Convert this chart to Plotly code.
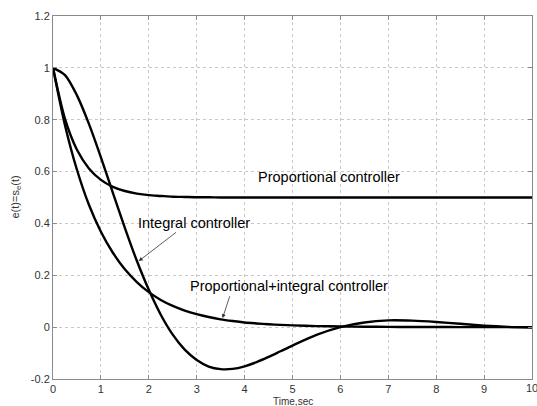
import plotly.graph_objects as go

# time samples (sec)
time = [0, 0.25, 0.5, 0.75, 1.0, 1.25, 1.5, 1.75, 2.0, 2.25, 2.5, 2.75, 3.0,
        3.25, 3.5, 3.75, 4.0, 4.25, 4.5, 4.75, 5.0, 5.5, 6.0, 6.5, 7.0, 7.5, 8.0, 8.5, 9.0, 9.5, 10.0]

proportional = [1.0, 0.803, 0.684, 0.612, 0.568, 0.541, 0.525, 0.515, 0.509, 0.506, 0.503, 0.502, 0.501,
                0.501, 0.500, 0.500, 0.500, 0.500, 0.500, 0.500, 0.500, 0.500, 0.500, 0.500, 0.500, 0.500,
                0.500, 0.500, 0.500, 0.500, 0.500]

integral = [1.0, 0.972, 0.894, 0.784, 0.655, 0.518, 0.383, 0.256, 0.144, 0.048, -0.029, -0.087, -0.127,
            -0.152, -0.162, -0.161, -0.151, -0.135, -0.115, -0.093, -0.071, -0.030, 0.000, 0.018, 0.026,
            0.025, 0.020, 0.013, 0.006, 0.001, -0.002]

prop_integral = [1.0, 0.779, 0.607, 0.472, 0.368, 0.287, 0.223, 0.174, 0.135, 0.105, 0.082, 0.064, 0.050,
                 0.039, 0.030, 0.0235, 0.018, 0.0143, 0.011, 0.0087, 0.007, 0.004, 0.0025, 0.0015, 0.001,
                 0.0006, 0.0004, 0.0002, 0.0001, 0.0, 0.0]

x_ticks = [0, 1, 2, 3, 4, 5, 6, 7, 8, 9, 10]
x_tick_labels = ["0", "1", "2", "3", "4", "5", "6", "7", "8", "9", "10"]
y_ticks = [-0.2, 0, 0.2, 0.4, 0.6, 0.8, 1.0, 1.2]
y_tick_labels = ["-0.2", "0", "0.2", "0.4", "0.6", "0.8", "1", "1.2"]

FONT = "Liberation Sans, Arial, Helvetica, sans-serif"

fig = go.Figure()
for ys, name in [(proportional, "Proportional controller"),
                 (integral, "Integral controller"),
                 (prop_integral, "Proportional+integral controller")]:
    fig.add_trace(go.Scatter(x=time, y=ys, mode="lines", name=name,
                             line=dict(color="black", width=2.4, shape="spline", smoothing=0.8)))

axis_common = dict(showline=True, linecolor="#8a8a8a", linewidth=1, mirror="ticks",
                   ticks="inside", ticklen=4, tickcolor="#8a8a8a", automargin=False,
                   showgrid=True, gridcolor="#c8c8c8", griddash="dot", gridwidth=1,
                   zeroline=False, tickfont=dict(family=FONT, size=11, color="#333"))

# last x tick label is drawn as an annotation so it is not dropped at the canvas edge
fig.update_xaxes(range=[0, 10], tickvals=x_ticks, ticktext=x_tick_labels[:-1] + [""], **axis_common)
fig.update_yaxes(range=[-0.2, 1.2], tickvals=y_ticks, ticktext=y_tick_labels, **axis_common)

annotations = [
    dict(x=5.77, y=0.579, xref="x", yref="y", text="Proportional controller", showarrow=False,
         font=dict(family=FONT, size=14.5, color="black")),
    dict(x=2.94, y=0.402, xref="x", yref="y", text="Integral controller", showarrow=False,
         font=dict(family=FONT, size=14.5, color="black")),
    dict(x=4.92, y=0.159, xref="x", yref="y", text="Proportional+integral controller", showarrow=False,
         font=dict(family=FONT, size=14.5, color="black")),
    # arrows
    dict(x=1.79, y=0.255, xref="x", yref="y", ax=2.60, ay=0.37, axref="x", ayref="y", text="",
         showarrow=True, arrowhead=2, arrowsize=1, arrowwidth=0.8, arrowcolor="#333"),
    dict(x=3.54, y=0.035, xref="x", yref="y", ax=3.70, ay=0.125, axref="x", ayref="y", text="",
         showarrow=True, arrowhead=2, arrowsize=1, arrowwidth=0.8, arrowcolor="#333"),
    # last x tick label
    dict(x=x_ticks[-1], y=0, xref="x", yref="paper", yshift=-9, yanchor="middle", xanchor="center",
         text=x_tick_labels[-1], showarrow=False, font=dict(family=FONT, size=11, color="#333")),
    # axis titles
    dict(x=0.5, y=0, xref="paper", yref="paper", yshift=-22, yanchor="middle", xanchor="center",
         text="Time,sec", showarrow=False, font=dict(family=FONT, size=10, color="#333")),
    dict(x=0, y=0.5, xref="paper", yref="paper", xshift=-38, xanchor="center", yanchor="middle",
         text="e(t)=s<sub>e</sub>(t)", showarrow=False,
         textangle=-90, font=dict(family=FONT, size=11, color="#333")),
]

fig.update_layout(width=537, height=406, margin=dict(l=53, r=5, t=16, b=27),
                  paper_bgcolor="white", plot_bgcolor="white", showlegend=False,
                  annotations=annotations)

fig.write_html("out.html", config={"displayModeBar": False},
               post_script="document.body.style.margin='0px';")
